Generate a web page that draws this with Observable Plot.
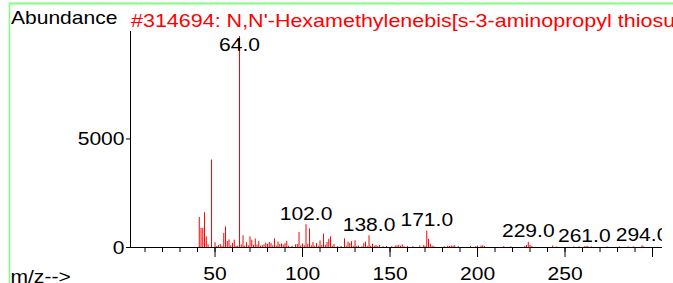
<!DOCTYPE html>
<html><head><meta charset="utf-8">
<script src="https://cdn.jsdelivr.net/npm/d3@7"></script>
<script src="https://cdn.jsdelivr.net/npm/@observablehq/plot@0.6"></script>
<style>
html,body{margin:0;padding:0;background:#fff;overflow:hidden}
</style></head><body><div id="chart"></div>
<script>
const mz = [
  41,42,43,44,45,46,48,50,51,52,
  53,54,55,56,57,58,59,60,61,62,
  63,64,65,66,67,68,69,70,71,72,
  73,74,75,76,77,78,79,80,81,82,
  83,84,85,86,87,88,89,90,91,92,
  94,96,97,98,99,100,101,102,103,104,
  105,106,107,108,109,110,111,112,113,114,
  115,116,117,118,120,122,124,125,126,127,
  128,129,130,131,132,134,135,136,137,138,
  139,140,141,142,143,144,146,148,151,153,
  154,155,156,157,158,160,163,167,169,170,
  171,172,173,174,175,181,183,184,185,186,
  187,189,196,199,200,202,203,204,215,219,
  227,228,229,230,231,243,245,255,258,261,
  262,263,265,274,281,286,289,294,295
];
const abundance = [
  1380,880,880,1600,490,130,4030,220,50,80,
  140,60,650,950,280,350,80,190,340,40,
  60,9720,120,540,60,220,80,490,340,100,
  390,120,280,60,90,120,200,150,230,180,
  80,400,60,250,130,160,110,180,280,60,
  60,120,140,690,70,160,80,1050,150,860,
  80,230,60,180,60,300,90,620,100,230,
  380,490,60,140,40,50,400,60,250,180,
  270,60,310,50,70,40,180,250,40,540,
  60,150,60,90,40,90,40,50,40,60,
  80,100,60,120,40,50,40,70,80,60,
  760,380,150,70,40,40,60,50,70,60,
  80,40,50,40,60,70,80,50,40,30,
  50,90,240,100,40,70,30,30,30,40,
  40,50,30,30,30,30,30,80,30
];
const labeledMz = [64, 102, 138, 171, 229, 261, 294];
const yTicks = [0, 5000];
const xMinorTicks = d3.range(10, 301, 10);
const xMajorTicks = [50, 100, 150, 200, 250, 300];
const titleText = "#314694: N,N'-Hexamethylenebis[s-3-aminopropyl thiosulfate]";
const yLabel = "Abundance";
const xLabel = "m/z-->";
const xDomain = [1.7, 305.7];
const yDomain = [0, 9950];

const peaks = mz.map((m, i) => ({mz: m, ab: abundance[i]}));
const labels = peaks.filter(d => labeledMz.includes(d.mz));
const labelCap = 8800;

const chart = Plot.plot({
  width: 673, height: 283,
  marginTop: 31, marginBottom: 36, marginLeft: 130, marginRight: 11,
  x: {domain: xDomain},
  y: {domain: yDomain},
  style: {fontFamily: "'Liberation Sans', Arial, sans-serif", fontSize: "18.8px", background: "white", color: "black", overflow: "hidden"},
  marks: [
    Plot.ruleX(peaks, {x: "mz", y1: 0, y2: "ab", stroke: "#ff0000", strokeWidth: 1}),
    Plot.ruleY([0], {stroke: "black"}),
    Plot.ruleX([xDomain[0]], {stroke: "black"}),
    Plot.axisY({ticks: yTicks, tickSize: 4, tickPadding: 2, label: null, tickFormat: d => String(d)}),
    Plot.axisX({ticks: xMinorTicks, tickSize: 5, label: null, tickFormat: () => ""}),
    Plot.axisX({ticks: xMajorTicks, tickSize: 10, tickPadding: 9, label: null, tickFormat: d => d === 300 ? "" : String(d)}),
    Plot.text(labels, {x: "mz", y: d => Math.min(d.ab, labelCap), text: d => d.mz.toFixed(1), dy: -5, lineAnchor: "bottom", clip: true, fill: "black"}),
    Plot.text([yLabel], {frameAnchor: "top-left", dx: -119.5, dy: -7.7, lineAnchor: "bottom", textAnchor: "start", fill: "black"}),
    Plot.text([titleText], {frameAnchor: "top-left", dx: 0.5, dy: -5, lineAnchor: "bottom", textAnchor: "start", fill: "#ff0000", fontSize: 19.2}),
    Plot.text([xLabel], {frameAnchor: "bottom-left", dx: -120, dy: 35, lineAnchor: "bottom", textAnchor: "start", fill: "black"})
  ]
});
document.getElementById("chart").appendChild(chart);

// horizontal stretch of glyphs to match the reference's wide sans
const SX = 1.12;
chart.querySelectorAll("text").forEach(t => {
  const x = parseFloat(t.getAttribute("x")) || 0;
  const tr = t.getAttribute("transform") || "";
  t.setAttribute("transform", `${tr} translate(${x},0) scale(${SX},1) translate(${-x},0)`);
});

// light green frame edges
const svg = d3.select(chart);
svg.append("line").attr("x1", 9.5).attr("x2", 673).attr("y1", 3.5).attr("y2", 3.5)
  .attr("stroke", "#7fff7f").attr("stroke-width", 2);
svg.append("line").attr("x1", 9.5).attr("x2", 9.5).attr("y1", 2.5).attr("y2", 283)
  .attr("stroke", "#7fff7f").attr("stroke-width", 1.5);
</script></body></html>
